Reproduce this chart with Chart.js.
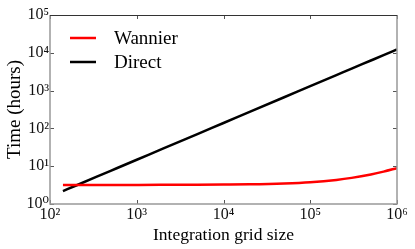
<!DOCTYPE html>
<html>
<head>
<meta charset="utf-8">
<script src="https://cdn.jsdelivr.net/npm/chart.js@4"></script>
<style>
  html, body { margin: 0; padding: 0; background: #fff; }
  #box { width: 415px; height: 249px; }
</style>
</head>
<body>
<div id="box"><canvas id="graphique"></canvas></div>
<script>
// donnees
const grid_sizes = [141, 200, 500, 1000, 2000, 5000, 1e4, 2e4, 5e4, 1e5, 2e5, 3e5, 5e5, 7e5, 1e6];
const wannier_hours = [3.2, 3.2, 3.2, 3.2, 3.21, 3.23, 3.26, 3.31, 3.49, 3.77, 4.34, 4.91, 6.05, 7.19, 8.9];
const direct_hours = [2.2, 3.09, 7.54, 14.8, 29.0, 70.8, 139, 273, 666, 1307, 2566, 3808, 6255, 8677, 12300];
const x_ticks = [1e2, 1e3, 1e4, 1e5, 1e6];
const y_ticks = [1e0, 1e1, 1e2, 1e3, 1e4, 1e5];
const series_labels = ['Wannier', 'Direct'];
const series_colors = ['#ff0000', '#000000'];

const sup = {'0':'⁰','1':'¹','2':'²','3':'³','4':'⁴','5':'⁵','6':'⁶'};
function powLabel(v){
  const e = Math.round(Math.log10(v));
  return '10' + String(e).split('').map(c => sup[c]).join('');
}

function toPoints(xs, ys){
  return xs.map((x, i) => ({x: x, y: ys[i]}));
}

const serif = "'Liberation Serif', 'DejaVu Serif', serif";

// cadre + petites graduations vers l'interieur + legende dans le graphique
const cadre = {
  id: 'cadre',
  afterDatasetsDraw(chart){
    const ctx = chart.ctx;
    const a = chart.chartArea;
    const sx = chart.scales.x, sy = chart.scales.y;
    ctx.save();
    ctx.lineWidth = 1;
    ctx.strokeStyle = '#555';
    x_ticks.forEach(v => {
      const px = Math.round(sx.getPixelForValue(v)) + 0.5;
      ctx.beginPath(); ctx.moveTo(px, a.bottom); ctx.lineTo(px, a.bottom - 4); ctx.stroke();
      ctx.beginPath(); ctx.moveTo(px, a.top); ctx.lineTo(px, a.top + 4); ctx.stroke();
    });
    y_ticks.forEach(v => {
      const py = Math.round(sy.getPixelForValue(v)) + 0.5;
      ctx.beginPath(); ctx.moveTo(a.left, py); ctx.lineTo(a.left + 4, py); ctx.stroke();
      ctx.beginPath(); ctx.moveTo(a.right, py); ctx.lineTo(a.right - 4, py); ctx.stroke();
    });
    ctx.lineWidth = 1.5;
    ctx.strokeStyle = '#999';
    ctx.beginPath();
    ctx.moveTo(a.left, a.top); ctx.lineTo(a.left, a.bottom); ctx.lineTo(a.right, a.bottom); ctx.lineTo(a.right, a.top);
    ctx.stroke();
    ctx.strokeStyle = '#333';
    ctx.lineWidth = 1;
    ctx.beginPath(); ctx.moveTo(a.left, a.top + 0.5); ctx.lineTo(a.right, a.top + 0.5); ctx.stroke();

    // legende
    ctx.font = '19px ' + serif;
    ctx.textBaseline = 'middle';
    ctx.fillStyle = '#000';
    series_labels.forEach((lab, i) => {
      const y = 38 + i * 24;
      ctx.strokeStyle = series_colors[i];
      ctx.lineWidth = 2.5;
      ctx.beginPath(); ctx.moveTo(70, y); ctx.lineTo(96, y); ctx.stroke();
      ctx.fillText(lab, 114, y + 1);
    });
    ctx.restore();
  }
};

const graph = document.getElementById('graphique');

new Chart(graph, {
  type: 'scatter',
  data: {
    datasets: series_labels.map((lab, i) => ({
      label: lab,
      data: toPoints(grid_sizes, i === 0 ? wannier_hours : direct_hours),
      showLine: true,
      borderColor: series_colors[i],
      backgroundColor: series_colors[i],
      borderWidth: 2.5,
      pointRadius: 0,
      cubicInterpolationMode: 'monotone'
    }))
  },
  options: {
    responsive: true,
    maintainAspectRatio: false,
    animation: false,
    layout: { padding: { top: 15, right: 18, left: 0, bottom: 0 } },
    plugins: { legend: { display: false }, tooltip: { enabled: false } },
    scales: {
      x: {
        type: 'logarithmic',
        min: 1e2, max: 1e6,
        grid: { display: false, drawTicks: false },
        border: { display: false },
        afterBuildTicks: s => { s.ticks = x_ticks.map(v => ({value: v})); },
        afterFit: s => { s.height = 45; },
        ticks: {
          callback: v => powLabel(v),
          color: '#111',
          font: { family: serif, size: 16 },
          padding: 1,
          maxRotation: 0,
          autoSkip: false
        },
        title: {
          display: true,
          text: 'Integration grid size',
          color: '#000',
          font: { family: serif, size: 17.5 },
          padding: { top: 0, bottom: 3 }
        }
      },
      y: {
        type: 'logarithmic',
        min: 1e0, max: 1e5,
        grid: { display: false, drawTicks: false },
        border: { display: false },
        afterBuildTicks: s => { s.ticks = y_ticks.map(v => ({value: v})); },
        afterFit: s => { s.width = 50; },
        ticks: {
          callback: v => powLabel(v),
          color: '#111',
          font: { family: serif, size: 16 },
          padding: 1,
          autoSkip: false
        },
        title: {
          display: true,
          text: 'Time (hours)',
          color: '#000',
          font: { family: serif, size: 19 },
          padding: { top: 4, bottom: 0 }
        }
      }
    }
  },
  plugins: [cadre]
});
</script>
</body>
</html>
